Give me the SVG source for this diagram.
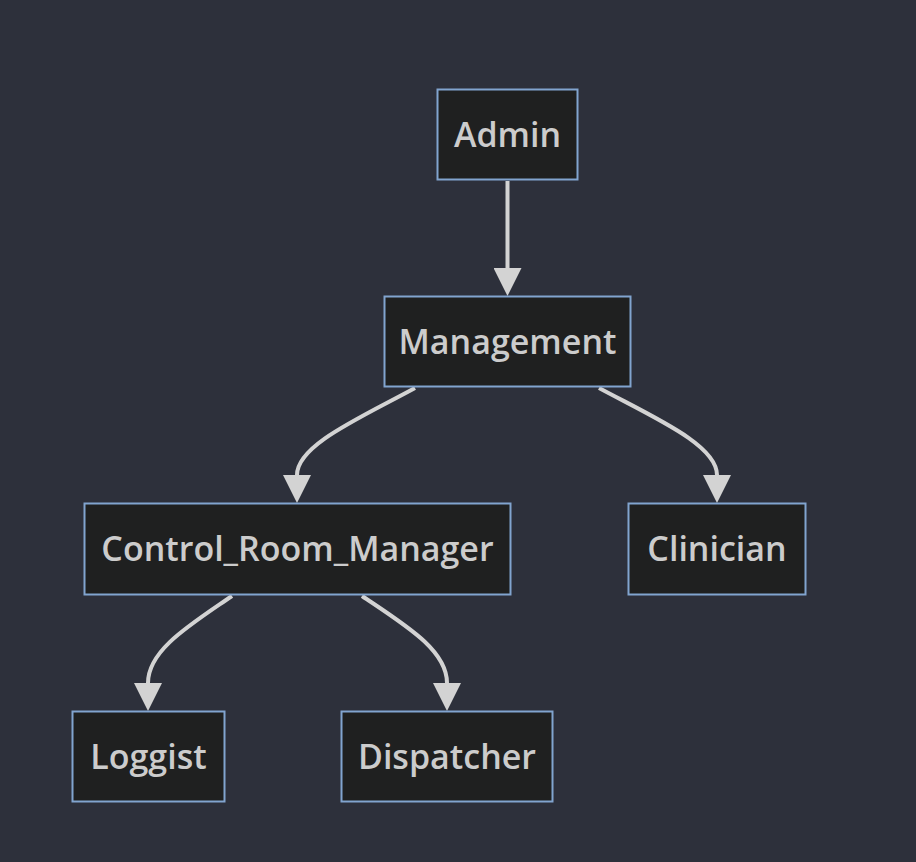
<svg xmlns="http://www.w3.org/2000/svg" width="916" height="862" viewBox="0 0 916 862">
<style>
.node rect{fill:#1f2020;stroke:#81a4cf;stroke-width:2}
.node text{fill:#cccccc;font-family:"Open Sans",sans-serif;font-size:34px;font-weight:600;text-anchor:middle;dominant-baseline:central}
.edge{fill:none;stroke:#d3d3d3;stroke-width:4}
</style>
<defs>
<marker id="arrow" viewBox="0 0 10 10" refX="0" refY="5" markerWidth="28" markerHeight="28" markerUnits="userSpaceOnUse" orient="auto">
<path d="M0,0 L10,5 L0,10 z" fill="#d3d3d3"/>
</marker>
</defs>
<rect width="916" height="862" fill="#2d303b"/>
<g id="connectors">
<path class="edge" d="M507.5,181 L507.5,268" marker-end="url(#arrow)"/>
<path class="edge" d="M415,388 C360,418 297,445 297,475" marker-end="url(#arrow)"/>
<path class="edge" d="M599,388 C655,418 717,445 717,475" marker-end="url(#arrow)"/>
<path class="edge" d="M232,596 C190,625 148,650 148,683" marker-end="url(#arrow)"/>
<path class="edge" d="M362,596 C405,625 447,650 447,683" marker-end="url(#arrow)"/>
</g>
<g id="node-admin" class="node"><rect x="437.5" y="89.5" width="140" height="90"/><text x="507.5" y="133.5">Admin</text></g>
<g id="node-management" class="node"><rect x="384.5" y="296.5" width="246" height="90"/><text x="507.5" y="340.5">Management</text></g>
<g id="node-crm" class="node"><rect x="84.5" y="503.5" width="426" height="91"/><text x="297.5" y="548">Control_Room_Manager</text></g>
<g id="node-clinician" class="node"><rect x="628.5" y="503.5" width="177" height="91"/><text x="717" y="548">Clinician</text></g>
<g id="node-loggist" class="node"><rect x="72.5" y="711.5" width="152" height="90"/><text x="148.5" y="755.5">Loggist</text></g>
<g id="node-dispatcher" class="node"><rect x="341.5" y="711.5" width="211" height="90"/><text x="447" y="755.5">Dispatcher</text></g>
</svg>
